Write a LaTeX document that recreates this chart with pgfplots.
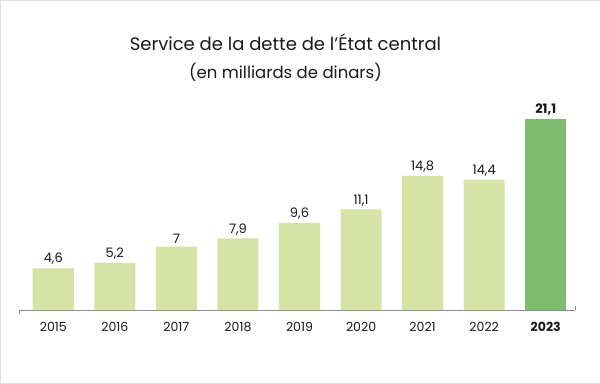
\documentclass[border=0pt]{standalone}
\usepackage{pgfplots}
\pgfplotsset{compat=1.18}
\usepackage{fontspec}
\setmainfont{Poppins}
\definecolor{lightbar}{HTML}{D5E3A5}
\definecolor{darkbar}{HTML}{7DBD6D}
\definecolor{axisgray}{HTML}{8C8C8C}
\begin{document}
\begin{tikzpicture}[x=1pt,y=1pt]
\draw[draw=black!12, fill=white] (0.5,0.5) rectangle (599.5,383.5);
\node[font=\fontsize{18}{20}\selectfont, text=black!90] at (285.5,342) {Service de la dette de l\char"0027 État central};
\node[font=\fontsize{16.5}{18}\selectfont, text=black!90] at (285.5,311) {(en milliards de dinars)};
\begin{axis}[
  at={(20pt,74pt)}, anchor=south west,
  scale only axis, width=555pt, height=210pt,
  xmin=-0.545, xmax=8.48, ymin=0, ymax=23.2,
  axis y line=none, axis x line*=bottom,
  axis line style={axisgray, line width=0.8pt},
  xtick={0,...,8}, xtick style={draw=none},
  xticklabels={2015,2016,2017,2018,2019,2020,2021,2022,\textbf{2023}},
  x tick label style={font=\fontsize{12.5}{14}\selectfont, text=black!90, yshift=-4pt},
  /pgf/number format/assume math mode=true,
  /pgf/number format/use comma,
  ybar, bar width=41pt, bar shift=0pt,
  nodes near coords,
  nodes near coords style={font=\fontsize{13}{15}\selectfont, text=black!90, yshift=0pt},
  clip=false,
]
\addplot[fill=lightbar, draw=none] coordinates {(0,4.6) (1,5.2) (2,7) (3,7.9) (4,9.6) (5,11.1) (6,14.8) (7,14.4)};
\addplot[fill=darkbar, draw=none, nodes near coords style={font=\fontsize{13}{15}\selectfont\bfseries}] coordinates {(8,21.1)};
\draw[axisgray, line width=0.8pt] (rel axis cs:0,0) -- ([yshift=-4pt]rel axis cs:0,0);
\draw[axisgray, line width=0.8pt] (rel axis cs:1,0) -- ([yshift=4pt]rel axis cs:1,0);
\end{axis}
\end{tikzpicture}
\end{document}
